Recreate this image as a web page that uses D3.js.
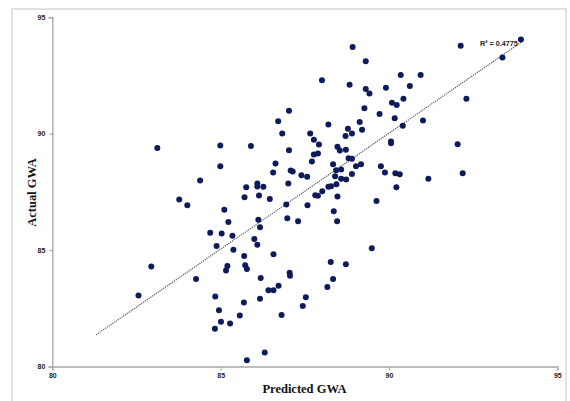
<!DOCTYPE html>
<html><head><meta charset="utf-8">
<script src="https://cdn.jsdelivr.net/npm/d3@7"></script>
<style>html,body{margin:0;padding:0;background:#fff;}</style>
</head><body>
<svg id="chart" width="570" height="401"></svg>
<script>
// Predicted GWA (x) and Actual GWA (y)
const predicted = [93.92,92.13,93.37,88.92,89.31,88.01,88.83,90.35,90.94,90.62,89.31,89.91,89.42,92.30,90.43,90.09,90.23,89.27,87.03,89.72,90.17,91.01,86.71,89.13,88.20,90.41,88.78,89.20,86.83,87.66,88.90,88.71,87.77,90.06,90.06,92.04,87.92,84.99,85.90,83.12,88.47,88.54,88.72,87.03,87.89,87.77,88.80,88.90,87.71,88.34,86.63,89.17,89.02,84.99,89.76,88.43,88.58,87.08,87.14,86.56,89.88,90.19,90.32,92.19,88.90,87.40,88.40,87.57,88.58,88.73,91.17,84.39,87.01,88.44,86.09,86.09,85.76,86.27,88.20,88.28,90.22,88.02,87.81,87.89,86.14,85.71,88.47,86.46,83.77,89.63,84.01,86.95,87.58,85.11,88.36,86.98,86.12,85.23,87.30,88.46,86.17,84.69,85.03,85.35,86.00,86.09,84.88,85.38,89.49,86.57,85.70,82.94,85.73,85.20,88.27,88.72,85.78,85.16,87.05,87.06,86.19,84.27,88.34,86.72,88.17,86.42,86.57,82.56,84.84,87.53,86.17,85.69,87.44,84.95,85.57,86.81,85.01,85.28,84.83,86.31,85.78];
const actual = [94.05,93.78,93.27,93.72,93.11,92.30,92.10,92.52,92.52,92.05,91.92,91.97,91.73,91.50,91.50,91.33,91.23,91.09,90.99,90.85,90.66,90.57,90.53,90.50,90.40,90.34,90.21,90.17,90.01,90.01,90.01,89.90,89.74,89.67,89.59,89.55,89.54,89.49,89.47,89.39,89.44,89.28,89.31,89.29,89.15,89.11,88.95,88.92,88.81,88.69,88.72,88.69,88.60,88.60,88.60,88.43,88.46,88.42,88.38,88.33,88.33,88.30,88.26,88.30,88.27,88.22,88.17,88.15,88.07,88.03,88.07,87.99,87.86,87.83,87.86,87.73,87.70,87.72,87.72,87.74,87.70,87.53,87.36,87.33,87.34,87.27,87.30,87.20,87.17,87.11,86.93,86.96,86.93,86.73,86.67,86.37,86.30,86.21,86.24,86.24,85.98,85.75,85.71,85.62,85.48,85.23,85.18,85.02,85.08,84.82,84.75,84.30,84.35,84.32,84.49,84.39,84.19,84.12,84.03,83.90,83.80,83.76,83.76,83.47,83.41,83.27,83.27,83.05,83.01,82.98,82.91,82.75,82.60,82.42,82.19,82.21,81.92,81.85,81.62,80.60,80.27];
const trendX = [81.3, 93.95];
const trendY = [81.36, 93.95];
const xTicks = [80, 85, 90, 95];
const yTicks = [80, 85, 90, 95];
const r2Label = "R\u00B2 = 0.4775";
const xTitle = "Predicted GWA";
const yTitle = "Actual GWA";

const svg = d3.select("#chart");
// outer frame
svg.append("rect").attr("x", 12).attr("y", 9).attr("width", 554).attr("height", 400)
  .attr("fill", "#fff").attr("stroke", "#d9d9d9").attr("stroke-width", 1.5);

const x = d3.scaleLinear().domain([80, 95]).range([52.3, 557.3]);
const y = d3.scaleLinear().domain([80, 95]).range([366.5, 17.3]);

const axisColor = "#a6a6a6";
const xAxis = svg.append("g").attr("transform", `translate(0,${y(80)})`)
  .call(d3.axisBottom(x).tickValues(xTicks).tickSize(4).tickPadding(3).tickFormat(d3.format("d")));
const yAxis = svg.append("g").attr("transform", `translate(${x(80)},0)`)
  .call(d3.axisLeft(y).tickValues(yTicks).tickSize(4).tickPadding(3).tickFormat(d3.format("d")));
[xAxis, yAxis].forEach(g => {
  g.select(".domain").attr("stroke", axisColor).attr("stroke-width", 1.3);
  g.selectAll(".tick line").attr("stroke", axisColor).attr("stroke-width", 1);
  g.selectAll(".tick text").attr("fill", "#222").attr("font-size", 7)
    .attr("font-family", "'Liberation Sans', Arial, sans-serif").attr("font-weight", "bold");
});
yAxis.selectAll(".tick line").attr("x2", 1.5).attr("x1", -3);

// trendline
svg.append("line")
  .attr("x1", x(trendX[0])).attr("y1", y(trendY[0]))
  .attr("x2", x(trendX[1])).attr("y2", y(trendY[1]))
  .attr("stroke", "#555").attr("stroke-width", 1.2).attr("stroke-dasharray", "1.2,1");

// points
svg.append("g").selectAll("circle").data(predicted.map((p, i) => [p, actual[i]]))
  .join("circle")
  .attr("cx", d => x(d[0])).attr("cy", d => y(d[1])).attr("r", 3)
  .attr("fill", "#0f1a5a");

// R2 label
svg.append("text").attr("x", 480).attr("y", 45.5).text(r2Label)
  .attr("font-family", "'Liberation Sans', Arial, sans-serif").attr("font-size", 7.2)
  .attr("font-weight", "bold").attr("fill", "#222");

// axis titles
svg.append("text").attr("x", 304.5).attr("y", 393).attr("text-anchor", "middle").text(xTitle)
  .attr("font-family", "'Liberation Serif', 'Times New Roman', serif").attr("font-size", 12.5)
  .attr("font-weight", "bold").attr("fill", "#111");
svg.append("text").attr("transform", "translate(36,192.5) rotate(-90)").attr("text-anchor", "middle").text(yTitle)
  .attr("font-family", "'Liberation Serif', 'Times New Roman', serif").attr("font-size", 12.5)
  .attr("font-weight", "bold").attr("fill", "#111");
</script>
</body></html>
